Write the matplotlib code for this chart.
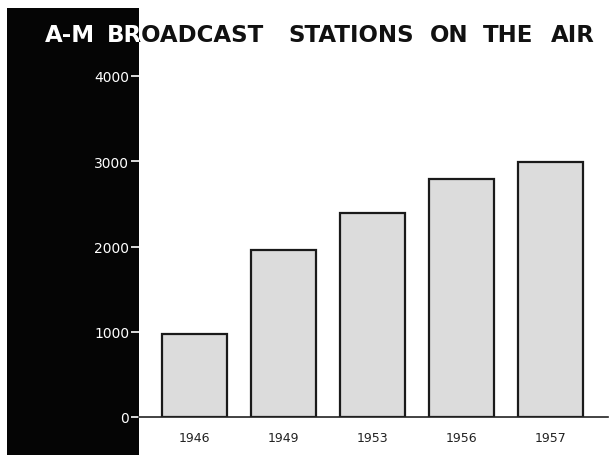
import matplotlib
matplotlib.use('Agg')
import matplotlib.pyplot as plt
from matplotlib.patches import Rectangle

years = ['1946', '1949', '1953', '1956', '1957']
stations = [970, 1960, 2390, 2790, 2990]
yticks = [0, 1000, 2000, 3000, 4000]
ytick_labels = ['0', '1000', '2000', '3000', '4000']

title_words = ['A-M', 'BROADCAST', 'STATIONS', 'ON', 'THE', 'AIR']
title_x = [45, 107, 288, 430, 483, 551]  # left edge of each word, px

W, H = 612, 456
fig = plt.figure(figsize=(W / 100, H / 100), dpi=100)
fig.patch.set_facecolor('white')

# black panel on the left
panel = Rectangle((7 / W, 0), (139 - 7) / W, (H - 9) / H,
                  transform=fig.transFigure, facecolor='#050505',
                  edgecolor='none', zorder=-5)
fig.patches.append(panel)

ax = fig.add_axes([139 / W, (H - 418) / H, (608 - 139) / W, (418 - 77) / H])
ax.set_facecolor('none')
ax.set_zorder(2)
ax.bar(range(len(years)), stations, width=0.73, color='#dcdcdc',
       edgecolor='#1a1a1a', linewidth=1.6, zorder=2)
ax.set_xlim(-0.627, 4.643)
ax.set_ylim(0, 4000)
ax.set_yticks(yticks)
ax.set_yticklabels(ytick_labels)
ax.set_xticks(range(len(years)))
ax.set_xticklabels(years)
for s in ['top', 'right', 'left']:
    ax.spines[s].set_visible(False)
ax.spines['bottom'].set_linewidth(1.2)
ax.spines['bottom'].set_color('#222222')
ax.tick_params(axis='y', colors='white', length=6, width=1.2, pad=1,
               labelsize=10)
ax.tick_params(axis='x', length=0, pad=10, labelsize=9, colors='#222222')

# title: white over the black panel, black over the white page
clip_dark = Rectangle((7 / W, 0), (139 - 7) / W, (H - 9) / H,
                      transform=fig.transFigure, visible=False)
clip_light = Rectangle((139 / W, 0), 1, 1, transform=fig.transFigure,
                       visible=False)
fig.patches.extend([clip_dark, clip_light])
for word, x in zip(title_words, title_x):
    for col, clip in [('white', clip_dark), ('#111111', clip_light)]:
        t = fig.text(x / W, (H - 42) / H, word, color=col, fontsize=16.5,
                     fontweight='bold', family='DejaVu Sans', ha='left',
                     va='baseline', zorder=5)
        t.set_clip_path(clip)

fig.savefig('out.png', dpi=100, facecolor='white')
